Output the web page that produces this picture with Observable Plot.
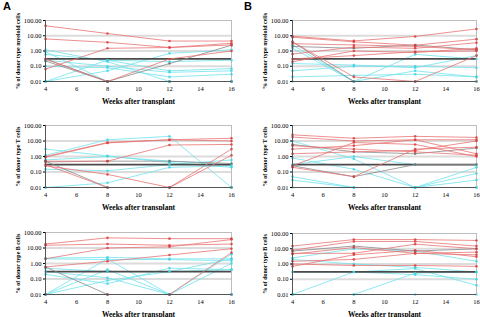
<!DOCTYPE html>
<html>
<head>
<meta charset="utf-8">
<script src="https://cdn.jsdelivr.net/npm/d3@7"></script>
<script src="https://cdn.jsdelivr.net/npm/@observablehq/plot@0.6"></script>
<style>
  body { margin: 0; background: #fff; }
  #wrap { position: relative; width: 480px; height: 317px; overflow: hidden; background: #fff; }
  .panel { position: absolute; z-index: 1; }
  .letter { position: absolute; z-index: 5; font: bold 11px "Liberation Sans", Arial, sans-serif; color: #000; }
</style>
</head>
<body>
<div id="wrap">
  <div class="letter" style="left:3px;top:0px">A</div>
  <div class="letter" style="left:244px;top:0px">B</div>
</div>
<script>
const weeks = [4, 8, 12, 16];
const yTicks = [0.01, 0.1, 1, 10, 100];
const xTicks = [4, 6, 8, 10, 12, 14, 16];
const threshold = 0.3;
const xTitle = "Weeks after transplant";
const yTitles = ["% of donor type myeloid cells", "% of donor type T cells", "% of donor type B cells"];

// Panel A – myeloid
const aMyeloidRed = [[45,14,4.5,4.5],[6.2,3.7,1.7,3.2],[0.065,1.5,1.7,2.5],[0.3,0.01,0.3,1.0]];
const aMyeloidGray = [[0.3,0.01,0.15,2.4],[0.22,0.01,0.01,0.01]];
const aMyeloidCyan = [[1.2,0.2,0.01,0.01],[0.6,0.25,0.05,0.07],[0.01,0.25,0.2,0.25],[0.01,0.05,0.7,1.2],[0.01,0.01,0.01,0.01],[0.1,0.08,0.02,0.03],[0.9,0.01,0.01,0.01],[0.25,0.1,0.04,0.05]];
// Panel B – myeloid
const bMyeloidRed = [[9.3,4.6,9,28],[8,4,2.4,6],[0.63,1.8,1.5,3.5],[0.2,1,0.8,1.5],[4,0.02,0.01,0.5],[0.3,0.5,0.9,1.0],[3,2.5,2,1.2]];
const bMyeloidGray = [[4,0.01,0.01,0.01],[2,1.5,2.5,1.2]];
const bMyeloidCyan = [[2.5,0.01,0.6,0.3],[0.05,0.1,0.1,0.08],[0.02,0.025,0.03,0.02],[0.01,0.01,0.01,0.01],[0.15,0.12,0.08,0.5],[1.5,0.01,0.05,0.02]];
// Panel A – T cells
const aTRed = [[1,8,12,15],[0.9,7.5,12,10],[0.5,0.5,5.5,6],[0.25,0.07,0.01,3],[0.3,0.01,0.01,1.2]];
const aTGray = [[0.5,0.01,0.01,0.01],[0.45,0.5,0.5,0.35]];
const aTCyan = [[3,1.1,0.4,0.2],[1.2,12,20,0.01],[0.15,0.12,0.3,0.6],[0.01,0.02,0.2,0.25],[0.01,0.01,0.01,0.01],[0.6,1,0.5,0.3]];
// Panel B – T cells
const bTRed = [[25,15,20,17],[18,10,12,12],[3,5,12,1.5],[1.5,2,2.5,10],[0.25,8,6,1],[0.2,0.05,3,4],[5,3,2,1.2]];
const bTGray = [[6,2,1.5,3.5],[0.25,0.05,0.3,0.3]];
const bTCyan = [[10,0.7,0.01,0.2],[0.8,0.15,0.01,0.08],[0.05,0.01,0.01,0.03],[0.03,0.01,0.01,0.01],[0.01,0.01,0.01,0.01],[0.3,1,0.3,0.3]];
// Panel A – B cells
const aBRed = [[18,45,40,40],[15,18,15,18],[2,10,12,35],[0.6,1.4,3.5,9],[0.01,0.01,0.01,5]];
const aBGray = [[0.6,0.01,0.01,0.01]];
const aBCyan = [[2.2,2.5,2,2],[2,1.8,1.8,1.5],[0.01,0.4,0.01,0.01],[0.01,2,0.01,4],[0.3,0.12,0.01,1],[0.2,0.05,0.5,0.4],[0.01,0.01,0.01,0.01],[0.5,0.3,0.3,0.4],[0.01,0.08,0.3,2]];
// Panel B – B cells
const bBRed = [[15,40,40,35],[8,30,30,15],[5,5,20,10],[4.5,12,5,6],[1.5,2,5,4],[0.7,4,8,3],[1,0.8,0.8,0.7]];
const bBGray = [[7,15,7,10]];
const bBCyan = [[2.5,10,7,1.5],[0.3,0.3,0.5,0.04],[0.01,0.3,0.2,0.1],[0.01,0.01,0.25,0.3],[0.01,0.01,0.01,0.01],[2,1,0.6,0.3]];

const colors = {
  red:  {line: "#e97474", dot: "#d83a3a"},
  gray: {line: "#8a8a8a", dot: "#6e6e6e"},
  cyan: {line: "#72e4ee", dot: "#3ed2e2"}
};
const serif = "Liberation Serif, Times New Roman, DejaVu Serif, serif";

function rows(groups) {
  const out = [];
  for (const [group, list] of Object.entries(groups)) {
    list.forEach((vals, i) => {
      vals.forEach((v, j) => {
        if (v != null) out.push({id: group + i, group, week: weeks[j], value: v});
      });
    });
  }
  return out;
}

const panels = [
  {left: 0,   top: 0,   h: 105, mL: 45, mR: 9, mT: 20, mB: 24, title: yTitles[0], data: {cyan: aMyeloidCyan, gray: aMyeloidGray, red: aMyeloidRed}},
  {left: 0,   top: 105, h: 105, mL: 45, mR: 9, mT: 20, mB: 23, title: yTitles[1], data: {cyan: aTCyan, gray: aTGray, red: aTRed}},
  {left: 0,   top: 210, h: 107, mL: 45, mR: 9, mT: 22, mB: 23, title: yTitles[2], data: {cyan: aBCyan, gray: aBGray, red: aBRed}},
  {left: 240, top: 0,   h: 105, mL: 52, mR: 4, mT: 20, mB: 24, title: yTitles[0], data: {cyan: bMyeloidCyan, gray: bMyeloidGray, red: bMyeloidRed}},
  {left: 240, top: 105, h: 105, mL: 52, mR: 4, mT: 20, mB: 23, title: yTitles[1], data: {cyan: bTCyan, gray: bTGray, red: bTRed}},
  {left: 240, top: 210, h: 107, mL: 52, mR: 4, mT: 23, mB: 23, title: yTitles[2], data: {cyan: bBCyan, gray: bBGray, red: bBRed}}
];

const wrap = document.getElementById("wrap");
for (const p of panels) {
  const data = rows(p.data);
  const marks = [
    Plot.ruleY([0.1, 1, 10], {stroke: "#dcdcdc", strokeWidth: 2}),
    Plot.ruleY([100], {stroke: "#bdbdbd", strokeWidth: 1}),
    Plot.ruleX([16], {stroke: "#bdbdbd", strokeWidth: 1})
  ];
  for (const g of ["cyan", "gray", "red"]) {
    const d = data.filter(r => r.group === g);
    marks.push(Plot.line(d, {x: "week", y: "value", z: "id", stroke: colors[g].line, strokeWidth: 1, strokeOpacity: 0.8}));
    if (g === "cyan") marks.push(Plot.ruleY([threshold], {stroke: "#4a4a4a", strokeWidth: 1.8}));
  }
  for (const g of ["cyan", "gray", "red"]) {
    const d = data.filter(r => r.group === g);
    marks.push(Plot.dot(d, {x: "week", y: "value", r: 1.3, fill: colors[g].dot, stroke: "none", fillOpacity: 0.8}));
  }
  marks.push(Plot.ruleX([4], {stroke: "#555", strokeWidth: 1}));
  marks.push(Plot.ruleY([0.01], {stroke: "#555", strokeWidth: 1}));
  marks.push(Plot.axisY({ticks: yTicks, tickFormat: d => d.toFixed(2), tickSize: 2, tickPadding: 2,
    label: p.title, labelAnchor: "center", labelArrow: "none", labelOffset: 30, fontSize: 6.5}));
  marks.push(Plot.axisX({ticks: xTicks, tickSize: 0, tickPadding: 5,
    label: xTitle, labelAnchor: "center", labelArrow: "none", labelOffset: 22, fontSize: 6.5}));

  const chart = Plot.plot({
    width: 240, height: p.h,
    marginLeft: p.mL, marginRight: p.mR, marginTop: p.mT, marginBottom: p.mB,
    style: {fontFamily: serif, fontSize: "6.5px", background: "#fff", overflow: "visible"},
    x: {domain: [4, 16]},
    y: {type: "log", domain: [0.01, 100]},
    marks
  });
  chart.setAttribute("font-family", serif);
  chart.querySelectorAll("text").forEach(t => {
    t.setAttribute("font-family", serif);
    t.style.fontFamily = serif;
  });
  chart.querySelectorAll("g[aria-label='y-axis label'] text, g[aria-label='x-axis label'] text").forEach(t => {
    t.style.fontWeight = "bold";
  });
  chart.querySelectorAll("g[aria-label='x-axis label'] text").forEach(t => { t.style.fontSize = "7.5px"; });
  chart.querySelectorAll("g[aria-label='y-axis label'] text").forEach(t => { t.style.fontSize = "6px"; });
  const div = document.createElement("div");
  div.className = "panel";
  div.style.left = p.left + "px";
  div.style.top = p.top + "px";
  div.appendChild(chart);
  wrap.appendChild(div);
}
</script>
</body>
</html>
